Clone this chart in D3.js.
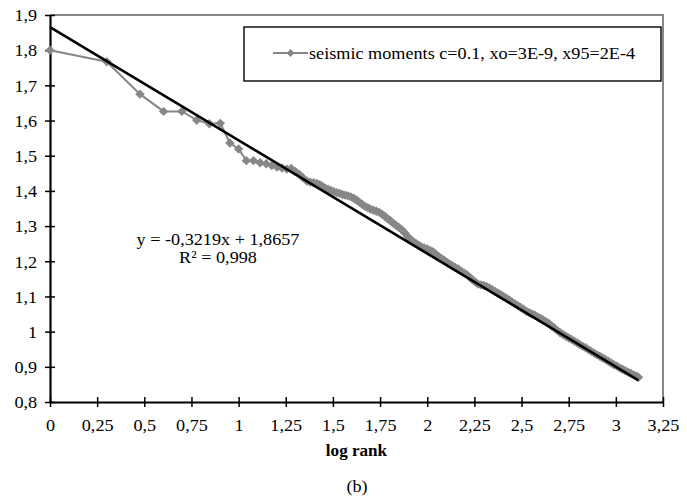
<!DOCTYPE html>
<html>
<head>
<meta charset="utf-8">
<script src="https://cdn.jsdelivr.net/npm/d3@7"></script>
<style>
    body { margin: 0; background: white; }
    svg { display: block; }
</style>
</head>
<body>
<div id="plot"></div>
<script>
// log rank of each point (first ranks one by one, then the dense tail)
const logRank = [
    0, 0.301, 0.477, 0.602, 0.699, 0.778, 0.845, 0.903, 0.954, 1.000,
    1.041, 1.079, 1.114, 1.146, 1.176, 1.204, 1.230, 1.255, 1.279, 1.301,
    1.322, 1.342, 1.362, 1.380, 1.398,
    1.415, 1.430, 1.445, 1.460, 1.475, 1.490, 1.505, 1.520, 1.535, 1.550,
    1.565, 1.580, 1.595, 1.610, 1.625, 1.640, 1.655, 1.670, 1.685, 1.700,
    1.715, 1.730, 1.745, 1.760, 1.775, 1.790, 1.805, 1.820, 1.835, 1.850,
    1.865, 1.880, 1.895, 1.910, 1.925, 1.940, 1.955, 1.970, 1.985, 2.000,
    2.015, 2.030, 2.045, 2.060, 2.075, 2.090, 2.105, 2.120, 2.135, 2.150,
    2.165, 2.180, 2.195, 2.210, 2.225, 2.240, 2.255, 2.270, 2.285, 2.300,
    2.315, 2.330, 2.345, 2.360, 2.375, 2.390, 2.405, 2.420, 2.435, 2.450,
    2.465, 2.480, 2.495, 2.510, 2.525, 2.540, 2.555, 2.570, 2.585, 2.600,
    2.615, 2.630, 2.645, 2.660, 2.675, 2.690, 2.705, 2.720, 2.735, 2.750,
    2.765, 2.780, 2.795, 2.810, 2.825, 2.840, 2.855, 2.870, 2.885, 2.900,
    2.915, 2.930, 2.945, 2.960, 2.975, 2.990, 3.005, 3.020, 3.035, 3.050,
    3.065, 3.080, 3.095, 3.110, 3.120
];
// log of seismic moment
const logMoment = [
    1.800, 1.767, 1.675, 1.626, 1.626, 1.601, 1.591, 1.592, 1.536, 1.519,
    1.486, 1.486, 1.480, 1.477, 1.472, 1.468, 1.465, 1.462, 1.464, 1.455,
    1.447, 1.437, 1.428, 1.425, 1.423,
    1.421, 1.418, 1.413, 1.408, 1.404, 1.401, 1.398, 1.395, 1.393, 1.390,
    1.388, 1.386, 1.383, 1.379, 1.374, 1.368, 1.362, 1.356, 1.352, 1.348,
    1.345, 1.342, 1.339, 1.334, 1.328, 1.321, 1.315, 1.308, 1.302, 1.296,
    1.290, 1.281, 1.271, 1.263, 1.256, 1.251, 1.246, 1.241, 1.238, 1.235,
    1.231, 1.227, 1.221, 1.214, 1.208, 1.203, 1.197, 1.192, 1.187, 1.182,
    1.178, 1.172, 1.167, 1.162, 1.155, 1.147, 1.141, 1.135, 1.133, 1.131,
    1.128, 1.124, 1.119, 1.114, 1.109, 1.105, 1.100, 1.095, 1.090, 1.084,
    1.079, 1.074, 1.069, 1.064, 1.058, 1.054, 1.050, 1.047, 1.042, 1.038,
    1.033, 1.028, 1.023, 1.016, 1.010, 1.003, 0.997, 0.992, 0.987, 0.982,
    0.978, 0.973, 0.968, 0.963, 0.958, 0.954, 0.949, 0.944, 0.939, 0.934,
    0.930, 0.925, 0.921, 0.916, 0.911, 0.906, 0.902, 0.897, 0.893, 0.889,
    0.885, 0.881, 0.877, 0.873, 0.870
];
// fitted line y = slope*x + intercept
const slope = -0.3219;
const intercept = 1.8657;
const fitRange = [0, 3.12];
const equationLines = ["y = -0,3219x + 1,8657", "R² = 0,998"];

const xTicks = [0, 0.25, 0.5, 0.75, 1, 1.25, 1.5, 1.75, 2, 2.25, 2.5, 2.75, 3, 3.25];
const yTicks = [0.8, 0.9, 1, 1.1, 1.2, 1.3, 1.4, 1.5, 1.6, 1.7, 1.8, 1.9];
const seriesName = "seismic moments c=0.1, xo=3E-9, x95=2E-4";
const xTitle = "log rank";
const caption = "(b)";

function plot() {
    const svgwidth = 687;
    const svgheight = 501;
    const margin = {top: 15, bottom: 99, left: 50, right: 24};
    const font_family = "'Liberation Serif', 'Times New Roman', serif";
    const label_size = 17;
    const stretch = 1.07; // the reference text is a bit wide
    const gray = "#878787";
    const fmt = v => String(+v.toFixed(2)).replace(".", ",");

    // place a text at (x,y) and widen it a little
    let place = (sel, x, y) => sel.attr("x", 0).attr("y", 0)
        .attr("transform", `translate(${x},${y}) scale(${stretch},1)`);

    let xScale = d3.scaleLinear()
        .domain([0, 3.25])
        .range([margin.left, svgwidth - margin.right]);
    let yScale = d3.scaleLinear()
        .domain([0.8, 1.9])
        .range([svgheight - margin.bottom, margin.top]);

    let svg = d3.select("#plot").append("svg")
        .attr("width", svgwidth)
        .attr("height", svgheight)
        .style("font-family", font_family);

    // gray frame on top and right of the plot area
    svg.append("path")
        .attr("d", `M${xScale(0)},${yScale(1.9)}H${xScale(3.25)}V${yScale(0.8)}`)
        .attr("fill", "none")
        .attr("stroke", gray)
        .attr("stroke-width", 2);

    // axes: ticks cross the axis line
    let xAxis = d3.axisBottom(xScale).tickValues(xTicks).tickFormat(fmt)
        .tickSizeInner(5).tickSizeOuter(0).tickPadding(12);
    let yAxis = d3.axisLeft(yScale).tickValues(yTicks).tickFormat(fmt)
        .tickSizeInner(5).tickSizeOuter(0).tickPadding(8);

    let gx = svg.append("g")
        .attr("transform", `translate(0,${yScale(0.8)})`)
        .call(xAxis);
    gx.selectAll(".tick line").attr("y1", -5).attr("stroke-width", 1.5);
    let gy = svg.append("g")
        .attr("transform", `translate(${xScale(0)},0)`)
        .call(yAxis);
    gy.selectAll(".tick line").attr("x1", 5).attr("stroke-width", 1.5);
    [gx, gy].forEach(g => {
        g.attr("font-family", null);
        g.select(".domain").attr("stroke", "black").attr("stroke-width", 2.2);
        g.selectAll("text")
            .attr("fill", "black")
            .attr("transform", `scale(${stretch},1)`)
            .style("font-size", label_size + "px")
            .style("font-family", font_family);
    });
    gy.selectAll("text").attr("dy", "0.34em").attr("x", -12);

    // data series
    let points = logRank.map((x, i) => ({x: x, y: logMoment[i]}));
    let line = d3.line().x(d => xScale(d.x)).y(d => yScale(d.y));
    const diamond = "M0,-4.7L4.7,0L0,4.7L-4.7,0Z";

    svg.append("path")
        .datum(points)
        .attr("d", line)
        .attr("fill", "none")
        .attr("stroke", gray)
        .attr("stroke-width", 2);
    svg.append("g")
        .selectAll("path")
        .data(points)
        .enter().append("path")
        .attr("d", diamond)
        .attr("transform", d => `translate(${xScale(d.x)},${yScale(d.y)})`)
        .attr("fill", gray);

    // regression line
    let fit = fitRange.map(x => ({x: x, y: slope * x + intercept}));
    svg.append("path")
        .datum(fit)
        .attr("d", line)
        .attr("fill", "none")
        .attr("stroke", "black")
        .attr("stroke-width", 2.6);

    // equation text
    svg.append("g")
        .selectAll("text")
        .data(equationLines)
        .enter().append("text")
        .text(d => d)
        .each(function (d, i) { place(d3.select(this), 218, 245 + i * 17.5); })
        .attr("text-anchor", "middle")
        .style("font-size", label_size + "px");

    // legend
    let legend = svg.append("g").attr("class", "legend");
    legend.append("rect")
        .attr("x", 244)
        .attr("y", 27)
        .attr("width", 417)
        .attr("height", 54)
        .attr("fill", "white")
        .attr("stroke", "black")
        .attr("stroke-width", 1.4);
    legend.append("line")
        .attr("x1", 273).attr("x2", 308)
        .attr("y1", 53).attr("y2", 53)
        .attr("stroke", gray)
        .attr("stroke-width", 2);
    legend.append("path")
        .attr("d", "M0,-4L4,0L0,4L-4,0Z")
        .attr("transform", "translate(290.5,53)")
        .attr("fill", gray);
    legend.append("text")
        .text(seriesName)
        .call(place, 309, 58.5)
        .style("font-size", label_size + "px")
        .style("font-family", font_family);

    // axis title and caption
    svg.append("text")
        .text(xTitle)
        .call(place, (xScale(0) + xScale(3.25)) / 2, 456)
        .attr("text-anchor", "middle")
        .style("font-weight", "bold")
        .style("font-size", "16px");
    svg.append("text")
        .text(caption)
        .call(place, 357, 492)
        .attr("text-anchor", "middle")
        .style("font-size", label_size + "px");
}

plot();
</script>
</body>
</html>
